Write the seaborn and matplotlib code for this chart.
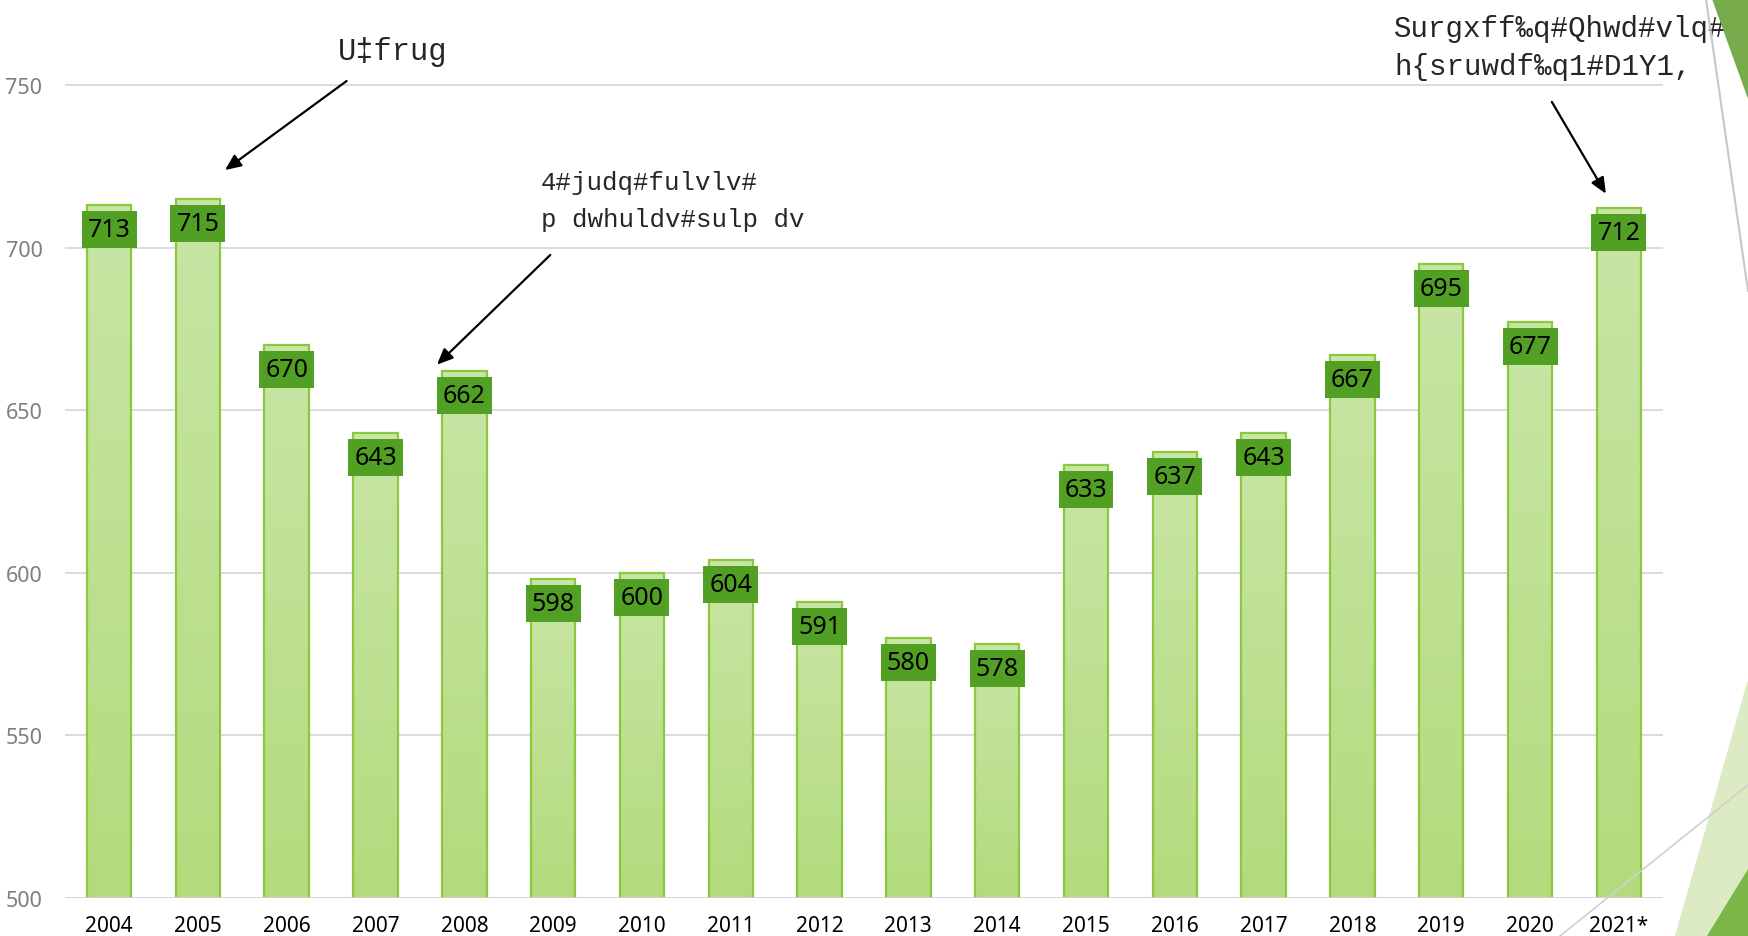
import numpy as np
import pandas as pd
import matplotlib
matplotlib.use("Agg")
import matplotlib.pyplot as plt
from matplotlib.patches import Polygon
from matplotlib.lines import Line2D
from matplotlib.colors import LinearSegmentedColormap
import seaborn as sns

years = ["2004", "2005", "2006", "2007", "2008", "2009", "2010", "2011", "2012",
         "2013", "2014", "2015", "2016", "2017", "2018", "2019", "2020", "2021*"]
values = [713, 715, 670, 643, 662, 598, 600, 604, 591, 580, 578, 633, 637, 643,
          667, 695, 677, 712]
yticks = [500, 550, 600, 650, 700, 750]
note1 = "U‡frug"
note2 = "4#judq#fulvlv#\np dwhuldv#sulp dv"
note3 = "Surgxff‰q#Qhwd#vlq#\nh{sruwdf‰q1#D1Y1,"

sns.set_theme(style="white")
plt.rcParams['font.family'] = ['Noto Sans', 'DejaVu Sans']

W, H = 1748, 937
fig = plt.figure(figsize=(W / 100, H / 100), dpi=100)
fig.patch.set_facecolor("white")

def fp(pts):
    return [(x / W, 1 - y / H) for x, y in pts]

fig.add_artist(Line2D([1706 / W, 1748 / W], [1, 1 - 292 / H], color="#c8c8c8", lw=1.5))
fig.add_artist(Line2D([1560 / W, 1748 / W], [1 - 937 / H, 1 - 786 / H], color="#d0d0d0", lw=1.2))
fig.add_artist(Polygon(fp([(1712, 0), (1748, 0), (1748, 100)]), closed=True,
                       facecolor="#78ab4b", edgecolor="none"))
fig.add_artist(Polygon(fp([(1675, 937), (1748, 680), (1748, 937)]), closed=True,
                       facecolor="#dcebc4", edgecolor="none"))
fig.add_artist(Polygon(fp([(1707, 937), (1748, 870), (1748, 937)]), closed=True,
                       facecolor="#7ab648", edgecolor="none"))

ax = fig.add_axes([0.037, 0.0404, 0.9145, 0.9596])
ax.set_facecolor("none")

df = pd.DataFrame({"year": years, "value": values})
sns.barplot(data=df, x="year", y="value", ax=ax, width=0.5, color="#bfe298",
            edgecolor="#8dc63f", linewidth=1.6, zorder=3)

grad = np.linspace(0, 1, 256).reshape(-1, 1)
cmap = LinearSegmentedColormap.from_list("g", ["#b3db7d", "#c8e6a5"])
for p in ax.patches:
    x0, y0 = p.get_x(), p.get_y()
    w, h = p.get_width(), p.get_height()
    im = ax.imshow(grad, extent=[x0, x0 + w, 500, y0 + h], origin="lower",
                   cmap=cmap, aspect="auto", zorder=3.5)
    im.set_clip_path(p)
    p.set_facecolor("none")
    p.set_zorder(4)
ax.set_xlim(-0.5, len(years) - 0.5)
ax.set_ylim(500, 776.4)

for i, v in enumerate(values):
    ax.text(i, v - 7.5, str(v), ha="center", va="center", fontsize=18, color="black",
            zorder=6, bbox=dict(boxstyle="square,pad=0.24", facecolor="#52a023",
                                edgecolor="none"))

ax.set_yticks(yticks)
ax.set_yticklabels([str(t) for t in yticks], color="#7f7f7f", fontsize=15.5)
ax.tick_params(axis="y", length=0, pad=16)
ax.tick_params(axis="x", length=0, pad=12, labelsize=15, labelcolor="black")
ax.set_xlabel("")
ax.set_ylabel("")
for y in yticks[1:]:
    ax.axhline(y, color="#d9d9d9", lw=1.3, zorder=1)
ax.axhline(500, color="#d0d0d0", lw=2, zorder=5)
for s in ax.spines.values():
    s.set_visible(False)

mono = ["Liberation Mono", "DejaVu Sans Mono"]
ax.text(2.58, 760.3, note1, fontsize=22, family=mono, va="center", ha="left", zorder=7)
ax.text(4.86, 714.5, note2, fontsize=18.5, family=mono, va="center", ha="left",
        linespacing=1.65, zorder=7)
ax.text(14.47, 761.6, note3, fontsize=21, family=mono, va="center", ha="left",
        linespacing=1.45, zorder=7)

arrow = dict(arrowstyle="-|>,head_length=0.8,head_width=0.35", color="black", lw=1.6)
ax.annotate("", xy=(1.28, 723.3), xytext=(2.70, 751.7), arrowprops=arrow, zorder=7)
ax.annotate("", xy=(3.67, 663.4), xytext=(4.99, 698.3), arrowprops=arrow, zorder=7)
ax.annotate("", xy=(16.87, 715.8), xytext=(16.23, 745.5), arrowprops=arrow, zorder=7)

fig.savefig("out.png", dpi=100)
